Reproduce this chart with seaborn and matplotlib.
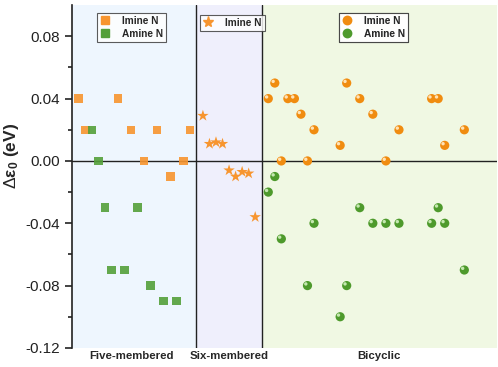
import numpy as np
import pandas as pd
import seaborn as sns
import matplotlib.pyplot as plt
import matplotlib.transforms as mtransforms
from matplotlib.lines import Line2D

# five-membered rings
five_imine_x = [1, 2, 7, 9, 11, 13, 15, 17, 18]
five_imine_y = [0.04, 0.02, 0.04, 0.02, 0.00, 0.02, -0.01, 0.00, 0.02]
five_amine_x = [3, 4, 5, 6, 8, 10, 12, 14, 16]
five_amine_y = [0.02, 0.00, -0.03, -0.07, -0.07, -0.03, -0.08, -0.09, -0.09]

# six-membered rings
six_imine_x = [20, 21, 22, 23, 24, 25, 26, 27, 28]
six_imine_y = [0.029, 0.011, 0.012, 0.011, -0.006, -0.010, -0.007, -0.008, -0.036]

# bicyclic
bi_imine_x = [30, 31, 32, 33, 34, 35, 36, 37, 41, 42, 44, 46, 48, 50, 55, 56, 57, 60]
bi_imine_y = [0.04, 0.05, 0.00, 0.04, 0.04, 0.03, 0.00, 0.02, 0.01, 0.05,
              0.04, 0.03, 0.00, 0.02, 0.04, 0.04, 0.01, 0.02]
bi_amine_x = [30, 31, 32, 36, 37, 41, 42, 44, 46, 48, 50, 55, 56, 57, 60]
bi_amine_y = [-0.02, -0.01, -0.05, -0.08, -0.04, -0.10, -0.08, -0.03,
              -0.04, -0.04, -0.04, -0.04, -0.03, -0.04, -0.07]

regions = ["Five-membered", "Six-membered", "Bicyclic"]
region_edges = [0, 19, 29, 65]
region_colors = ["#EEF6FE", "#EFEFFC", "#F0F8E3"]

orange = "#F7952F"
green = "#54A03A"

sns.set_style("ticks")
plt.rcParams["font.family"] = ["Liberation Sans", "DejaVu Sans"]
plt.rcParams["mathtext.fontset"] = "custom"
plt.rcParams["mathtext.rm"] = "Liberation Sans"
plt.rcParams["mathtext.it"] = "Liberation Sans:italic"
plt.rcParams["mathtext.bf"] = "Liberation Sans:bold"

fig = plt.figure(figsize=(4.98, 3.67), dpi=100)
ax = fig.add_axes([0.145, 0.052, 0.853, 0.934])

for i in range(3):
    ax.axvspan(region_edges[i], region_edges[i + 1], color=region_colors[i], lw=0, zorder=0)
for xv in region_edges[1:3]:
    ax.axvline(xv, color="#222222", lw=1.0, zorder=1)
ax.axhline(0, color="#222222", lw=1.0, zorder=1)

five_im = pd.DataFrame({"x": five_imine_x, "y": five_imine_y})
five_am = pd.DataFrame({"x": five_amine_x, "y": five_amine_y})
six_im = pd.DataFrame({"x": six_imine_x, "y": six_imine_y})
bi_im = pd.DataFrame({"x": bi_imine_x, "y": bi_imine_y})
bi_am = pd.DataFrame({"x": bi_amine_x, "y": bi_amine_y})

sns.scatterplot(data=five_im, x="x", y="y", marker="s", s=38, color=orange,
                alpha=0.9, edgecolor="none", ax=ax, zorder=3)
sns.scatterplot(data=five_am, x="x", y="y", marker="s", s=38, color=green,
                alpha=0.9, edgecolor="none", ax=ax, zorder=3)
sns.scatterplot(data=six_im, x="x", y="y", marker="*", s=75, color=orange,
                edgecolor="none", ax=ax, zorder=3)

# shaded "balls" for bicyclic: base circle + small highlight
shift = mtransforms.ScaledTranslation(-1.2 / 72, 1.2 / 72, fig.dpi_scale_trans)
for df, base, hi in [(bi_im, "#F08C10", "#FFE2B5"), (bi_am, "#4E9A2C", "#C5E8B0")]:
    sns.scatterplot(data=df, x="x", y="y", marker="o", s=44, color=base,
                    edgecolor="none", ax=ax, zorder=3)
    ax.scatter(df["x"], df["y"], marker="o", s=6, color=hi, edgecolors="none",
               zorder=4, transform=ax.transData + shift)

ax.set_xlim(0, 65)
ax.set_ylim(-0.12, 0.10)
ax.set_yticks([-0.12, -0.08, -0.04, 0.00, 0.04, 0.08])
ax.set_yticklabels(["-0.12", "-0.08", "-0.04", "0.00", "0.04", "0.08"])
ax.set_yticks(np.arange(-0.10, 0.10, 0.04), minor=True)
ax.set_xticks([])
ax.tick_params(axis="y", which="major", length=5, width=1.2, labelsize=11,
               direction="out", colors="#222222")
ax.tick_params(axis="y", which="minor", length=3, width=1.2, direction="out", colors="#222222")
for side in ["top", "right", "bottom"]:
    ax.spines[side].set_visible(False)
ax.spines["left"].set_linewidth(1.2)
ax.spines["left"].set_color("#222222")
ax.set_xlabel("")
ax.set_ylabel(r"$\Delta\mathbf{\varepsilon_0}$ (eV)", fontsize=12.5, fontweight="bold")
ax.yaxis.set_label_coords(-0.12, 0.56)

trans = mtransforms.blended_transform_factory(ax.transData, ax.transAxes)
label_x = [9, 24, 47]
for lx, name in zip(label_x, regions):
    ax.text(lx, -0.025, name, transform=trans, ha="center", va="center",
            fontsize=8.2, fontweight="bold")

def make_legend(handles, labels, anchor):
    leg = ax.legend(handles, labels, loc="upper left", bbox_to_anchor=anchor,
                    bbox_transform=fig.transFigure, frameon=True, fancybox=False,
                    edgecolor="#333333", prop={"weight": "bold", "size": 7.3},
                    handlelength=1.0, handletextpad=1.2, borderpad=0.3,
                    labelspacing=0.25, borderaxespad=0)
    leg.get_frame().set_linewidth(0.8)
    ax.add_artist(leg)

sq = lambda c: Line2D([], [], marker="s", ls="none", color=c, markersize=6)
ball = lambda c: Line2D([], [], marker="o", ls="none", color=c, markersize=6)
make_legend([sq(orange), sq(green)], ["Imine N", "Amine N"], (97 / 498, 1 - 13 / 367))
make_legend([Line2D([], [], marker="*", ls="none", color=orange, markersize=8)],
            ["Imine N"], (200 / 498, 1 - 15 / 367))
make_legend([ball("#F08C10"), ball("#4E9A2C")], ["Imine N", "Amine N"], (339 / 498, 1 - 13 / 367))

fig.savefig("out.png", dpi=100)
